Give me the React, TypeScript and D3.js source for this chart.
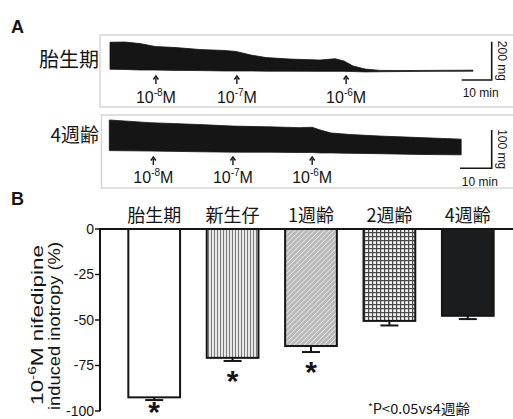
import React from 'react';
import * as d3 from 'd3';

// ---- panel A: contraction traces (time in min, tension in mg above resting baseline)
const fetalTime = [0, 5, 10, 15, 22, 30, 38, 42, 47, 52, 60, 70, 75, 78, 81, 85, 90, 97, 107, 121];
const fetalTop = [145, 146, 138, 123, 117, 107, 102, 97, 78, 65, 57, 52, 59, 47, 21, 5, -2, -3, -2, -1];
const fetalBottom = [4, 3, 0, 0, -2, -3, -5, -5, -5, -6, -6, -7, -7, -7, -8, -10, -9, -8, -7, -6];

const adultTime = [0, 12.8, 28.6, 39, 50.7, 60, 64, 66.5, 70, 76, 85.4, 98, 111];
const adultTop = [81, 74, 69, 65, 63, 61, 62, 55, 47, 43, 39, 35, 31];
const adultBottom = [1, 0, -2, -3, -3, -4, -4, -5, -5, -6, -7, -9, -10];

const doseExp = ['-8', '-7', '-6'];
const fetalDoseTime = [15.3, 42.3, 78.7];
const adultDoseTime = [13.9, 39, 64];

// ---- panel B: bar chart
const groups = ['胎生期', '新生仔', '1週齢', '2週齢', '4週齢'];
const means = [-92.5, -70.8, -64.3, -50.5, -47.7];
const sems = [1.5, 1.7, 3.3, 2.5, 1.8];
const significant = [true, true, true, false, false];
const yTicks = [0, -25, -50, -75, -100];

const SANS = '"Liberation Sans", Arial, sans-serif';
const CJK = '"Noto Sans CJK JP", "Noto Sans CJK SC", sans-serif';
const INK = '#151515';

const fills = ['#ffffff', 'url(#pVert)', 'url(#pDiag)', 'url(#pGrid)', '#1b1c1d'];

function Trace({ time, top, bottom, xs, ys }) {
  const rows = time.map((t, i) => ({ t, top: top[i], bottom: bottom[i] }));
  const area = d3.area()
    .x(d => xs(d.t))
    .y0(d => ys(d.bottom))
    .y1(d => ys(d.top));
  return <path d={area(rows)} fill={INK} stroke={INK} strokeWidth={0.8} />;
}

function DoseMarks({ doses, xs, arrowTop, labelY }) {
  return (
    <g>
      {doses.map((t, i) => {
        const cx = xs(t);
        return (
          <g key={i}>
            <line x1={cx} x2={cx} y1={arrowTop + 2} y2={arrowTop + 8} stroke={INK} strokeWidth={1.4} />
            <path d={`M${cx - 2.5},${arrowTop + 3.5} L${cx},${arrowTop} L${cx + 2.5},${arrowTop + 3.5}`} fill="none" stroke={INK} strokeWidth={1.4} />
            <text x={cx} y={labelY} textAnchor="middle" fontFamily={SANS} fontSize={16} fill={INK}>
              10<tspan dy={-7} fontSize={10}>{doseExp[i]}</tspan><tspan dy={7}>M</tspan>
            </text>
          </g>
        );
      })}
    </g>
  );
}

function ScaleBar({ xs, ys, right, bottom, mg, textY }) {
  const len10 = xs(10) - xs(0);
  const lenMg = ys(0) - ys(mg);
  return (
    <g>
      <path d={`M${right - len10},${bottom} H${right} V${bottom - lenMg}`} fill="none" stroke={INK} strokeWidth={1.6} />
      <text x={right - len10 / 2 + 4} y={textY} textAnchor="middle" fontFamily={SANS} fontSize={12} fill={INK}>10 min</text>
      <text transform={`translate(${right + 6},${bottom - lenMg / 2}) rotate(90)`} textAnchor="middle"
        fontFamily={SANS} fontSize={12} fill={INK}>{mg} mg</text>
    </g>
  );
}

export default function App() {
  // panel A scales
  const xFetal = d3.scaleLinear().domain([0, 10]).range([110, 140]);
  const yFetal = d3.scaleLinear().domain([0, 200]).range([70, 31.7]);
  const xAdult = d3.scaleLinear().domain([0, 10]).range([109.3, 141]);
  const yAdult = d3.scaleLinear().domain([0, 100]).range([151, 112.7]);

  // panel B scales
  const y = d3.scaleLinear().domain([0, -100]).range([229, 411]);
  const x = d3.scaleBand().domain(groups).range([115, 507]).paddingInner(0.34).paddingOuter(0.17);

  return (
    <svg width={513} height={419} style={{ position: 'absolute', left: 0, top: 0, background: '#fff' }}>
      <defs>
        <pattern id="pVert" width={3} height={6} patternUnits="userSpaceOnUse">
          <rect width={3} height={6} fill="#fafafa" />
          <line x1={1.5} x2={1.5} y1={0} y2={6} stroke="#7a7a7a" strokeWidth={1.3} />
        </pattern>
        <pattern id="pDiag" width={3.5} height={3.5} patternUnits="userSpaceOnUse" patternTransform="rotate(45)">
          <rect width={3.5} height={3.5} fill="#b9b9b9" />
          <line x1={0} x2={0} y1={0} y2={3.5} stroke="#eeeeee" strokeWidth={1.4} />
        </pattern>
        <pattern id="pGrid" width={4} height={4} patternUnits="userSpaceOnUse">
          <rect width={4} height={4} fill="#f2f2f2" />
          <line x1={0.6} x2={0.6} y1={0} y2={4} stroke="#4a4a4a" strokeWidth={1.2} />
          <line x1={0} x2={4} y1={0.6} y2={0.6} stroke="#4a4a4a" strokeWidth={1.2} />
        </pattern>
      </defs>

      {/* ---------------- A ---------------- */}
      <text x={11} y={33} fontFamily={SANS} fontWeight="bold" fontSize={18} fill={INK}>A</text>

      <rect x={100} y={35} width={420} height={72} fill="none" stroke="#d6d6d6" strokeWidth={1.5} />
      <rect x={101.5} y={115} width={420} height={73} fill="none" stroke="#d6d6d6" strokeWidth={1.5} />

      <text x={99} y={67} textAnchor="end" fontFamily={CJK} fontSize={20} fill={INK}>胎生期</text>
      <text x={99} y={142} textAnchor="end" fontFamily={CJK} fontSize={19} fill={INK}>4週齢</text>

      <Trace time={fetalTime} top={fetalTop} bottom={fetalBottom} xs={xFetal} ys={yFetal} />
      <Trace time={adultTime} top={adultTop} bottom={adultBottom} xs={xAdult} ys={yAdult} />

      <DoseMarks doses={fetalDoseTime} xs={xFetal} arrowTop={76} labelY={103} />
      <DoseMarks doses={adultDoseTime} xs={xAdult} arrowTop={157} labelY={183} />

      <ScaleBar xs={xFetal} ys={yFetal} right={491.7} bottom={80} mg={200} textY={97} />
      <ScaleBar xs={xAdult} ys={yAdult} right={491.7} bottom={168.3} mg={100} textY={186} />

      {/* ---------------- B ---------------- */}
      <text x={11} y={205} fontFamily={SANS} fontWeight="bold" fontSize={18} fill={INK}>B</text>

      {groups.map((g, i) => {
        const x0 = x(g);
        const bw = x.bandwidth();
        const cx = x0 + bw / 2;
        const yEnd = y(means[i] - sems[i]);
        return (
          <g key={g}>
            <rect x={x0} y={y(0)} width={bw} height={y(means[i]) - y(0)} fill={fills[i]} stroke={INK} strokeWidth={2} />
            <line x1={cx} x2={cx} y1={y(means[i])} y2={yEnd} stroke={INK} strokeWidth={2} />
            <line x1={cx - 9} x2={cx + 9} y1={yEnd} y2={yEnd} stroke={INK} strokeWidth={2} />
            {significant[i] && (
              <text x={cx} y={Math.min(yEnd + 30, 422)} textAnchor="middle" fontFamily={SANS} fontWeight="bold" fontSize={30} fill={INK}>*</text>
            )}
            <text x={cx} y={222} textAnchor="middle" fontFamily={CJK} fontSize={18} fill={INK}>{g}</text>
          </g>
        );
      })}

      {/* axes */}
      <line x1={99} x2={513} y1={y(0)} y2={y(0)} stroke={INK} strokeWidth={2.2} />
      <line x1={100} x2={100} y1={y(0)} y2={y(-100)} stroke={INK} strokeWidth={2} />
      {yTicks.map(t => (
        <g key={t}>
          <line x1={95} x2={100} y1={y(t)} y2={y(t)} stroke={INK} strokeWidth={1.5} />
          <text x={94} y={y(t)} dy="0.33em" textAnchor="end" fontFamily={SANS} fontSize={14} fill={INK}>{t}</text>
        </g>
      ))}

      <text transform="translate(43,325) rotate(-90)" textAnchor="middle" fontFamily={SANS} fontSize={16} fill={INK}
        textLength={160} lengthAdjust="spacingAndGlyphs">
        10<tspan dy={-7} fontSize={11}>-6</tspan><tspan dy={7}>M nifedipine</tspan>
      </text>
      <text transform="translate(60,326) rotate(-90)" textAnchor="middle" fontFamily={SANS} fontSize={17} fill={INK}
        textLength={168} lengthAdjust="spacingAndGlyphs">
        induced inotropy (%)
      </text>

      <text x={368} y={414} fontFamily={CJK} fontSize={14} fill={INK} textLength={102} lengthAdjust="spacingAndGlyphs">
        <tspan fontSize={10} dy={-3}>*</tspan><tspan dy={3}>P&lt;0.05vs4週齢</tspan>
      </text>
    </svg>
  );
}
